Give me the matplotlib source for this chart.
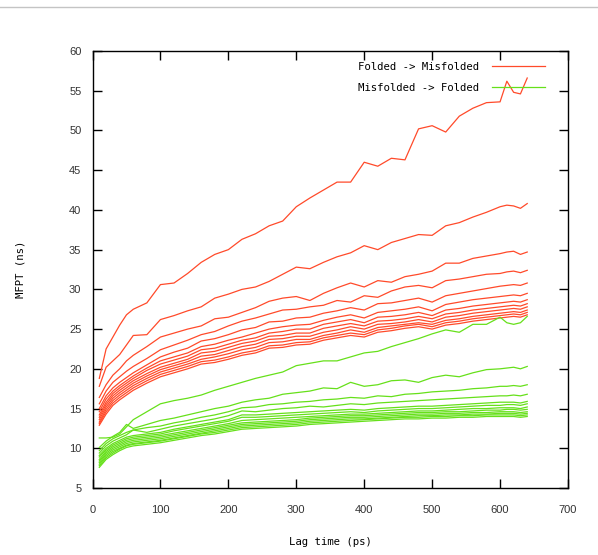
import matplotlib.pyplot as plt
from matplotlib.lines import Line2D

lag_ps = [10, 20, 30, 40, 50, 60, 80, 100, 120, 140, 160, 180, 200, 220, 240, 260, 280, 300,
          320, 340, 360, 380, 400, 420, 440, 460, 480, 500, 520, 540, 560, 580, 600, 610, 620, 630, 640]

# Folded -> Misfolded MFPT (ns), one list per run
fold_to_misfold = [
    [18.8, 22.5, 24.0, 25.5, 26.8, 27.5, 28.3, 30.6, 30.8, 32.0, 33.4, 34.4, 35.0, 36.3, 37.0, 38.0, 38.6, 40.4,
     41.5, 42.5, 43.5, 43.5, 46.0, 45.5, 46.5, 46.3, 50.2, 50.6, 49.8, 51.8, 52.8, 53.5, 53.6, 56.2, 54.8, 54.6, 56.6],
    [17.8, 20.2, 21.0, 21.8, 23.0, 24.2, 24.3, 26.2, 26.7, 27.3, 27.8, 28.9, 29.4, 30.0, 30.3, 31.0, 31.9, 32.8,
     32.6, 33.4, 34.1, 34.6, 35.5, 35.0, 35.9, 36.4, 36.9, 36.8, 38.0, 38.4, 39.1, 39.7, 40.4, 40.6, 40.5, 40.2, 40.8],
    [16.4, 18.0, 19.2, 20.0, 21.0, 21.7, 22.8, 24.0, 24.5, 25.0, 25.4, 26.3, 26.5, 27.1, 27.7, 28.5, 28.9, 29.1,
     28.6, 29.5, 30.2, 30.8, 30.3, 31.1, 30.9, 31.6, 31.9, 32.3, 33.3, 33.3, 33.9, 34.2, 34.5, 34.7, 34.8, 34.4, 34.7],
    [15.6, 17.2, 18.3, 19.0, 19.7, 20.3, 21.3, 22.4, 23.0, 23.6, 24.3, 24.7, 25.4, 26.0, 26.4, 26.9, 27.4, 27.5,
     27.8, 28.0, 28.6, 28.4, 29.2, 29.0, 29.8, 30.3, 30.5, 30.2, 31.1, 31.3, 31.6, 31.9, 32.0, 32.2, 32.3, 32.1, 32.4],
    [15.0, 16.6, 17.6, 18.3, 18.9, 19.5, 20.5, 21.5, 22.1, 22.6, 23.5, 23.8, 24.3, 24.9, 25.2, 25.9, 26.0, 26.4,
     26.5, 27.0, 27.3, 27.7, 27.4, 28.2, 28.3, 28.6, 28.9, 28.4, 29.2, 29.5, 29.8, 30.1, 30.4, 30.5, 30.6, 30.5, 30.8],
    [14.6, 16.2, 17.2, 17.9, 18.5, 19.1, 20.1, 21.0, 21.5, 22.0, 22.8, 23.1, 23.6, 24.0, 24.5, 25.0, 25.3, 25.5,
     25.6, 26.1, 26.5, 26.8, 26.4, 27.1, 27.3, 27.5, 27.8, 27.3, 28.1, 28.4, 28.7, 28.9, 29.1, 29.2, 29.3, 29.2, 29.5],
    [14.2, 15.8, 16.9, 17.6, 18.2, 18.8, 19.8, 20.6, 21.1, 21.6, 22.4, 22.6, 23.1, 23.6, 23.9, 24.5, 24.7, 25.0,
     25.0, 25.6, 25.9, 26.2, 25.8, 26.5, 26.6, 26.8, 27.1, 26.7, 27.4, 27.6, 27.9, 28.1, 28.3, 28.4, 28.5, 28.4, 28.7],
    [13.9, 15.5, 16.6, 17.3, 17.9, 18.5, 19.4, 20.2, 20.7, 21.2, 22.0, 22.2, 22.7, 23.2, 23.5, 24.1, 24.2, 24.5,
     24.5, 25.1, 25.4, 25.7, 25.4, 26.0, 26.1, 26.3, 26.6, 26.3, 26.9, 27.1, 27.4, 27.6, 27.8, 27.9, 28.0, 27.9, 28.2],
    [13.6, 15.2, 16.3, 17.0, 17.6, 18.2, 19.1, 19.9, 20.4, 20.9, 21.6, 21.8, 22.3, 22.8, 23.1, 23.7, 23.8, 24.1,
     24.1, 24.6, 24.9, 25.3, 25.0, 25.6, 25.7, 25.9, 26.2, 25.9, 26.5, 26.7, 27.0, 27.2, 27.4, 27.5, 27.6, 27.5, 27.8],
    [13.3, 14.9, 16.0, 16.7, 17.3, 17.9, 18.8, 19.6, 20.1, 20.6, 21.2, 21.5, 21.9, 22.4, 22.7, 23.3, 23.4, 23.7,
     23.7, 24.2, 24.5, 24.9, 24.6, 25.2, 25.4, 25.6, 25.8, 25.6, 26.1, 26.3, 26.6, 26.8, 27.0, 27.1, 27.2, 27.1, 27.4],
    [13.1, 14.6, 15.7, 16.4, 17.0, 17.6, 18.5, 19.3, 19.8, 20.3, 20.9, 21.1, 21.5, 22.0, 22.3, 22.9, 23.0, 23.3,
     23.4, 23.9, 24.2, 24.5, 24.3, 24.9, 25.1, 25.4, 25.6, 25.3, 25.8, 26.0, 26.3, 26.5, 26.7, 26.8, 26.9, 26.8, 27.1],
    [12.9, 14.3, 15.4, 16.1, 16.7, 17.3, 18.2, 19.0, 19.5, 20.0, 20.6, 20.8, 21.2, 21.7, 22.0, 22.6, 22.7, 23.0,
     23.1, 23.6, 23.9, 24.2, 24.0, 24.6, 24.8, 25.1, 25.3, 25.0, 25.5, 25.7, 26.0, 26.2, 26.4, 26.5, 26.6, 26.5, 26.8],
]

# Misfolded -> Folded MFPT (ns)
misfold_to_fold = [
    [11.3, 11.3, 11.4, 11.8, 12.7, 13.6, 14.6, 15.6, 16.0, 16.3, 16.7, 17.3, 17.8, 18.3, 18.8, 19.2, 19.6, 20.4,
     20.7, 21.0, 21.0, 21.5, 22.0, 22.2, 22.8, 23.3, 23.8, 24.4, 24.9, 24.6, 25.6, 25.6, 26.5, 25.8, 25.6, 25.8, 26.6],
    [10.1, 10.9, 11.5, 12.0, 13.0, 12.5, 13.0, 13.5, 13.8, 14.2, 14.6, 15.0, 15.3, 15.8, 16.1, 16.3, 16.8, 17.0,
     17.2, 17.6, 17.5, 18.3, 17.8, 18.0, 18.5, 18.6, 18.3, 18.9, 19.2, 19.0, 19.5, 19.9, 20.0, 20.1, 20.2, 20.0, 20.3],
    [9.7, 10.6, 11.2, 11.6, 12.0, 12.3, 12.6, 12.8, 13.2, 13.5, 13.9, 14.2, 14.6, 15.1, 15.2, 15.5, 15.6, 15.8,
     15.9, 16.1, 16.2, 16.4, 16.3, 16.6, 16.5, 16.8, 16.9, 17.1, 17.2, 17.3, 17.5, 17.6, 17.8, 17.8, 17.9, 17.8, 18.0],
    [9.4, 10.3, 10.9, 11.3, 11.7, 12.3, 12.0, 12.4, 12.8, 13.1, 13.4, 13.7, 14.1, 14.7, 14.6, 14.8, 15.0, 15.1,
     15.3, 15.2, 15.4, 15.6, 15.5, 15.7, 15.8, 15.9, 16.0, 16.1, 16.2, 16.3, 16.4, 16.5, 16.6, 16.6, 16.7, 16.6, 16.8],
    [9.1, 10.0, 10.6, 11.0, 11.4, 11.6, 11.8, 12.0, 12.4, 12.7, 13.0, 13.3, 13.6, 14.2, 14.2, 14.3, 14.4, 14.5,
     14.6, 14.7, 14.8, 14.9, 14.8, 15.0, 15.1, 15.2, 15.3, 15.3, 15.4, 15.5, 15.6, 15.7, 15.8, 15.8, 15.8, 15.7, 15.9],
    [8.9, 9.8, 10.4, 10.8, 11.2, 11.4, 11.6, 11.8, 12.2, 12.5, 12.8, 13.1, 13.4, 13.9, 13.9, 14.0, 14.1, 14.2,
     14.3, 14.4, 14.5, 14.6, 14.5, 14.7, 14.8, 14.9, 15.0, 15.0, 15.1, 15.2, 15.3, 15.4, 15.4, 15.5, 15.5, 15.4, 15.6],
    [8.6, 9.6, 10.2, 10.6, 11.0, 11.2, 11.4, 11.6, 11.9, 12.2, 12.5, 12.8, 13.1, 13.5, 13.6, 13.7, 13.8, 13.9,
     14.0, 14.1, 14.2, 14.3, 14.3, 14.4, 14.5, 14.6, 14.7, 14.7, 14.8, 14.9, 15.0, 15.0, 15.1, 15.1, 15.1, 15.0, 15.2],
    [8.4, 9.4, 10.0, 10.4, 10.8, 11.0, 11.2, 11.4, 11.7, 12.0, 12.3, 12.6, 12.9, 13.2, 13.3, 13.4, 13.5, 13.6,
     13.8, 13.9, 14.0, 14.1, 14.1, 14.2, 14.3, 14.4, 14.5, 14.5, 14.6, 14.6, 14.7, 14.8, 14.8, 14.9, 14.9, 14.8, 14.9],
    [8.2, 9.2, 9.8, 10.2, 10.6, 10.8, 11.0, 11.2, 11.5, 11.8, 12.1, 12.4, 12.7, 13.0, 13.1, 13.2, 13.3, 13.4,
     13.6, 13.7, 13.8, 13.9, 13.9, 14.0, 14.1, 14.2, 14.3, 14.3, 14.4, 14.4, 14.5, 14.5, 14.6, 14.6, 14.6, 14.5, 14.6],
    [8.0, 9.0, 9.6, 10.0, 10.4, 10.6, 10.8, 11.0, 11.3, 11.6, 11.9, 12.2, 12.5, 12.8, 12.9, 13.0, 13.1, 13.2,
     13.4, 13.5, 13.6, 13.7, 13.7, 13.8, 13.9, 14.0, 14.1, 14.1, 14.2, 14.2, 14.3, 14.3, 14.4, 14.4, 14.4, 14.3, 14.4],
    [7.8, 8.8, 9.4, 9.9, 10.3, 10.5, 10.7, 10.9, 11.2, 11.5, 11.8, 12.0, 12.3, 12.6, 12.7, 12.8, 12.9, 13.0,
     13.2, 13.3, 13.4, 13.5, 13.6, 13.7, 13.8, 13.9, 13.9, 14.0, 14.0, 14.1, 14.1, 14.2, 14.2, 14.2, 14.2, 14.1, 14.2],
    [7.6, 8.6, 9.2, 9.7, 10.1, 10.3, 10.5, 10.7, 11.0, 11.3, 11.6, 11.8, 12.1, 12.4, 12.5, 12.6, 12.7, 12.8,
     13.0, 13.1, 13.2, 13.3, 13.4, 13.5, 13.6, 13.7, 13.7, 13.8, 13.8, 13.9, 13.9, 14.0, 14.0, 14.0, 14.0, 13.9, 14.0],
]

x_ticks = [0, 100, 200, 300, 400, 500, 600, 700]
y_ticks = [5, 10, 15, 20, 25, 30, 35, 40, 45, 50, 55, 60]

RED = "#ff4a2a"
GREEN = "#66e01a"
MONO = "DejaVu Sans Mono"

fig = plt.figure(figsize=(5.98, 5.55), dpi=100)
ax = fig.add_axes([0.1547, 0.1207, 0.7951, 0.7874])

for i, run in enumerate(fold_to_misfold):
    ax.plot(lag_ps, run, color=RED, linewidth=0.9, label="Folded -> Misfolded" if i == 0 else None)
for i, run in enumerate(misfold_to_fold):
    ax.plot(lag_ps, run, color=GREEN, linewidth=0.9, label="Misfolded -> Folded" if i == 0 else None)

ax.set_xlim(0, 700)
ax.set_ylim(5, 60)
ax.set_xticks(x_ticks)
ax.set_yticks(y_ticks)
ax.tick_params(direction="in", length=6.5, width=1.0, top=True, right=True, labelsize=8, colors="black")
ax.tick_params(axis="x", pad=12)
ax.tick_params(axis="y", pad=8)
for label in ax.get_xticklabels() + ax.get_yticklabels():
    label.set_fontfamily("Liberation Sans")
    label.set_color("#333333")
for spine in ax.spines.values():
    spine.set_linewidth(1.0)

ax.set_xlabel("Lag time (ps)", fontfamily=MONO, fontsize=7.7, labelpad=16)
ax.set_ylabel("MFPT (ns)", fontfamily=MONO, fontsize=7.7, labelpad=31)

ax.legend(loc="upper right", bbox_to_anchor=(0.952, 0.975), markerfirst=False, frameon=False,
          prop={"family": MONO, "size": 7.7}, handlelength=5.0, handletextpad=1.2,
          labelspacing=1.0, borderpad=0, borderaxespad=0)

# thin grey rule along the top of the page
fig.add_artist(Line2D([0, 1], [1 - 7 / 555, 1 - 7 / 555], color="#c4c4c4", linewidth=1.0))

fig.savefig("out.png", dpi=100)
